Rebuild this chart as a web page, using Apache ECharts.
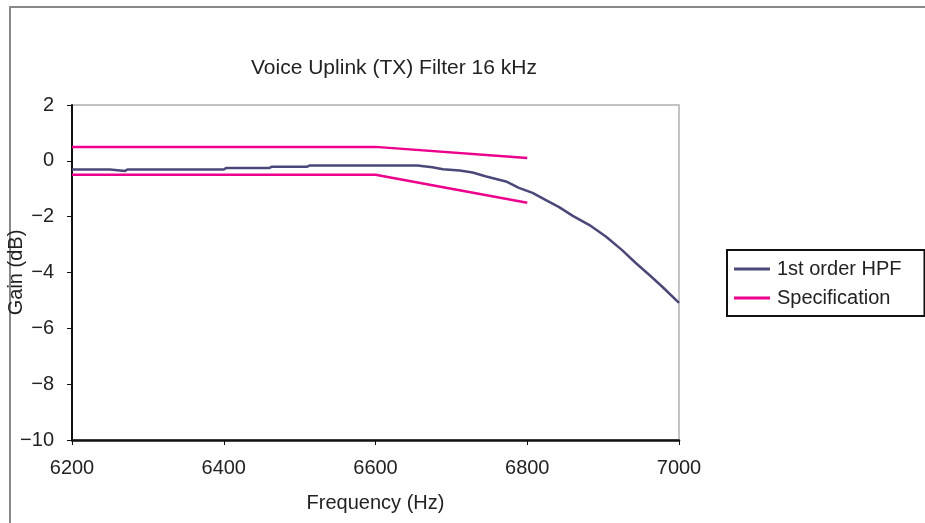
<!DOCTYPE html>
<html>
<head>
<meta charset="utf-8">
<script src="https://cdn.jsdelivr.net/npm/echarts@6/dist/echarts.min.js"></script>
<style>
html,body{margin:0;padding:0;background:#fff;}
#chart{width:925px;height:523px;}
</style>
</head>
<body>
<div id="chart"></div>
<script>
// ---- data ----
const titleText = 'Voice Uplink (TX) Filter 16 kHz';
const xAxisName = 'Frequency (Hz)';
const yAxisName = 'Gain (dB)';
const hpfName = '1st order HPF';
const specName = 'Specification';

const hpfFreq = [6200, 6250, 6252, 6270, 6273, 6400, 6403, 6460, 6463, 6510, 6513, 6655, 6675, 6689, 6711, 6728, 6746, 6772, 6789, 6807, 6824, 6842, 6860, 6882, 6904, 6925, 6943, 6961, 6978, 7000];
const hpfGain = [-0.31, -0.31, -0.36, -0.36, -0.31, -0.31, -0.26, -0.26, -0.21, -0.21, -0.17, -0.17, -0.23, -0.30, -0.35, -0.42, -0.56, -0.74, -0.97, -1.15, -1.40, -1.66, -1.97, -2.30, -2.72, -3.20, -3.66, -4.09, -4.51, -5.09];

const specFreq = [6200, 6600, 6800];
const specUpper = [0.5, 0.5, 0.1];
const specLower = [-0.5, -0.5, -1.5];

const xTicks = [6200, 6400, 6600, 6800, 7000];
const yTicks = [-10, -8, -6, -4, -2, 0, 2];

// ---- chart ----
const zip = (xs, ys) => xs.map((x, i) => [x, ys[i]]);
const FONT = 'Liberation Sans, Arial, sans-serif';
const HPF_COLOR = '#4a4878';
const SPEC_COLOR = '#ec008c';

const chart = echarts.init(document.getElementById('chart'), null, {renderer: 'canvas'});
chart.setOption({
  backgroundColor: '#ffffff',
  animation: false,
  textStyle: {fontFamily: FONT},
  title: {
    text: titleText,
    left: 251,
    top: 58,
    padding: 0,
    textStyle: {fontFamily: FONT, fontSize: 21, fontWeight: 'normal', color: '#222'}
  },
  graphic: [{
    type: 'polyline',
    shape: {points: [[10, 523], [10, 7], [925, 7]]},
    style: {stroke: '#888', lineWidth: 2, fill: null},
    silent: true
  }],
  grid: {
    left: 72, right: 246, top: 105, bottom: 83,
    containLabel: false, outerBoundsMode: 'none',
    show: true, borderColor: '#b0b0b0', borderWidth: 1.5, backgroundColor: 'transparent'
  },
  legend: {
    orient: 'vertical',
    left: 727, top: 250,
    padding: [9, 23, 8, 7],
    itemGap: 9,
    itemWidth: 36, itemHeight: 3,
    borderColor: '#111', borderWidth: 2,
    icon: 'rect',
    textStyle: {fontFamily: FONT, fontSize: 20, color: '#222', lineHeight: 20, padding: [0, 0, 0, 2]},
    data: [hpfName, specName]
  },
  xAxis: {
    type: 'value',
    min: xTicks[0], max: xTicks[xTicks.length - 1], interval: 200,
    name: xAxisName, nameLocation: 'middle', nameGap: 53, nameMoveOverlap: false,
    nameTextStyle: {fontFamily: FONT, fontSize: 20, color: '#222'},
    axisLine: {show: true, onZero: false, lineStyle: {color: '#111', width: 2.5}},
    axisTick: {show: true, length: 5, lineStyle: {color: '#111', width: 1}},
    axisLabel: {fontFamily: FONT, fontSize: 20, color: '#222', margin: 18, formatter: v => String(v)},
    splitLine: {show: false}
  },
  yAxis: {
    type: 'value',
    min: yTicks[0], max: yTicks[yTicks.length - 1], interval: 2,
    name: yAxisName, nameLocation: 'middle', nameGap: 46, nameRotate: 90, nameMoveOverlap: false,
    nameTextStyle: {fontFamily: FONT, fontSize: 20, color: '#222'},
    axisLine: {show: true, onZero: false, lineStyle: {color: '#111', width: 2}},
    axisTick: {show: true, length: 5, lineStyle: {color: '#111', width: 1}},
    axisLabel: {
      fontFamily: FONT, fontSize: 20, color: '#222', margin: 18,
      formatter: v => String(v).replace('-', '\u2212')
    },
    splitLine: {show: false}
  },
  series: [
    {
      name: hpfName, type: 'line', data: zip(hpfFreq, hpfGain),
      showSymbol: false, symbol: 'none', color: HPF_COLOR,
      lineStyle: {color: HPF_COLOR, width: 2.5}, z: 3
    },
    {
      name: specName, type: 'line', data: zip(specFreq, specUpper),
      showSymbol: false, symbol: 'none', color: SPEC_COLOR,
      lineStyle: {color: SPEC_COLOR, width: 2.5}, z: 2
    },
    {
      name: specName, type: 'line', data: zip(specFreq, specLower),
      showSymbol: false, symbol: 'none', color: SPEC_COLOR,
      lineStyle: {color: SPEC_COLOR, width: 2.5}, z: 2
    }
  ]
});
</script>
</body>
</html>
